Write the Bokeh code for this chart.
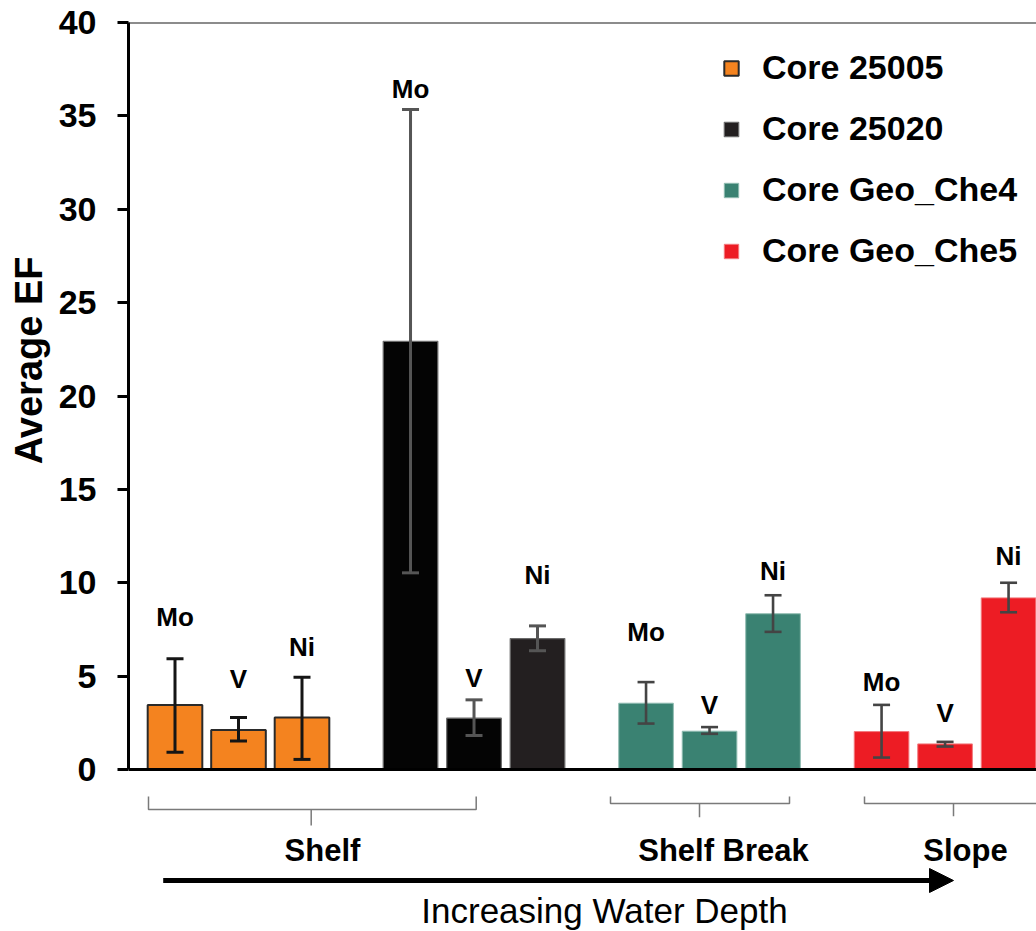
from bokeh.plotting import figure
from bokeh.models import (ColumnDataSource, Range1d, Span, Whisker, TeeHead, Label, Title,
                          Arrow, NormalHead, Legend, LegendItem, FixedTicker)
from bokeh.embed import file_html
from bokeh.resources import INLINE
from bokeh.core.properties import value

# ---------------- data ----------------
cores = ["Core 25005", "Core 25020", "Core Geo_Che4", "Core Geo_Che5"]
elements = ["Mo", "V", "Ni"]

mean_25005 = [3.45, 2.12, 2.78]
low_25005 = [0.93, 1.52, 0.54]
high_25005 = [5.93, 2.78, 4.94]

mean_25020 = [22.93, 2.75, 7.01]
low_25020 = [10.53, 1.82, 6.36]
high_25020 = [35.34, 3.73, 7.69]

mean_che4 = [3.55, 2.05, 8.34]
low_che4 = [2.46, 1.91, 7.37]
high_che4 = [4.68, 2.27, 9.33]

mean_che5 = [2.03, 1.37, 9.19]
low_che5 = [0.64, 1.23, 8.42]
high_che5 = [3.46, 1.48, 10.00]

y_ticks = [0, 5, 10, 15, 20, 25, 30, 35, 40]
zones = ["Shelf", "Shelf Break", "Slope"]
depth_label = "Increasing Water Depth"
y_label = "Average EF"

# ---------------- layout / style ----------------
FONT_NAME = "Liberation Sans"
FONT = value(FONT_NAME)
GROUP_STEP = 3.709
BAR_W = 0.86
PXU_X = 63.5     # pixels per x unit
PXU_Y = 18.675   # pixels per y unit


def X(px):  # pixel -> x data
    return (px - 174.5) / PXU_X


def Y(py):  # pixel -> y data
    return (769 - py) / PXU_Y


# label positions (vertical centre of the element labels, data units)
label_y = [[8.17, 4.87, 6.55], [36.46, 4.91, 10.44], [7.36, 3.43, 10.65], [4.69, 3.03, 11.41]]

styles = [
    dict(fill="#F4831F", edge="#2a2a2a", ew=2.0, ecol="#151515", elw=3.0),
    dict(fill=["#040404", "#040404", "#231F20"], edge="#6a6a6a", ew=1.2, ecol="#555555", elw=3.0),
    dict(fill="#3A8272", edge="#8fbcb1", ew=1.0, ecol="#444444", elw=2.6),
    dict(fill="#ED1C24", edge="#f27a7e", ew=1.0, ecol="#444444", elw=2.6),
]
series = [
    (mean_25005, low_25005, high_25005),
    (mean_25020, low_25020, high_25020),
    (mean_che4, low_che4, high_che4),
    (mean_che5, low_che5, high_che5),
]

p = figure(width=1036, height=931, output_backend="svg", toolbar_location=None,
           x_range=Range1d(X(128), X(1036)), y_range=Range1d(Y(931), 40),
           min_border_left=128, min_border_right=0, min_border_top=22, min_border_bottom=0)
p.xaxis.visible = False
p.xgrid.visible = False
p.ygrid.visible = False
p.outline_line_color = None
p.background_fill_color = "white"
p.border_fill_color = "white"

ya = p.yaxis[0]
ya.bounds = (0, 40)
ya.ticker = FixedTicker(ticks=y_ticks)
ya.minor_tick_line_color = None
ya.major_tick_out = 11
ya.major_tick_in = 0
ya.major_tick_line_width = 3
ya.major_tick_line_color = "black"
ya.axis_line_width = 3
ya.axis_line_color = "black"
ya.major_label_text_font = FONT_NAME
ya.major_label_text_font_style = "bold"
ya.major_label_text_font_size = "34px"
ya.major_label_text_color = "black"
ya.major_label_standoff = 21

# y-axis title, placed to match the original (top end ~ y=257)
p.add_layout(Title(text=y_label, align="right", offset=234, standoff=8, vertical_align="top",
                   text_font=FONT_NAME, text_font_style="bold", text_font_size="38px",
                   text_color="black"), "left")

legend_items = []
for g, (core, (m, lo, hi), st) in enumerate(zip(cores, series, styles)):
    xs = [g * GROUP_STEP + i for i in range(len(elements))]
    fills = st["fill"] if isinstance(st["fill"], list) else [st["fill"]] * 3
    src = ColumnDataSource(dict(x=xs, top=m, lower=lo, upper=hi, el=elements,
                                ly=label_y[g], fill=fills))
    r = p.vbar(x="x", top="top", bottom=0, width=BAR_W, source=src,
               fill_color="fill", line_color=st["edge"], line_width=st["ew"])
    w = Whisker(base="x", lower="lower", upper="upper", source=src, level="annotation",
                line_color=st["ecol"], line_width=st["elw"],
                upper_head=TeeHead(size=17, line_color=st["ecol"], line_width=st["elw"]),
                lower_head=TeeHead(size=17, line_color=st["ecol"], line_width=st["elw"]))
    p.add_layout(w)
    p.text(x="x", y="ly", text="el", source=src, text_align="center",
           text_baseline="alphabetic", text_font=FONT, text_font_style="bold",
           text_font_size="26px", text_color="black")
    legend_items.append(LegendItem(label=core, renderers=[r], index=2 if g == 1 else 0))

# axis frame lines
p.add_layout(Span(location=0, dimension="width", line_width=3, line_color="black"))
p.add_layout(Span(location=40, dimension="width", line_width=2, line_color="#1a1a1a"))

# legend
legend = Legend(items=legend_items, location=(594, 661), glyph_width=18, glyph_height=18,
                label_text_font=FONT_NAME, label_text_font_style="bold", label_text_font_size="34px",
                label_text_color="black", label_height=18, spacing=22, padding=0, margin=0,
                label_standoff=22, border_line_color=None, background_fill_alpha=0)
p.add_layout(legend)

# brackets
br_xs = [
    [X(148), X(148), X(310.7), X(310.7), X(310.7), X(475.7), X(475.7)],
    [X(610), X(610), X(699), X(699), X(699), X(789), X(789)],
    [X(864), X(864), X(953), X(953), X(953), X(1060), X(1060)],
]
br_ys = [
    [Y(796), Y(809), Y(809), Y(825), Y(809), Y(809), Y(796)],
    [Y(796), Y(803), Y(803), Y(816.7), Y(803), Y(803), Y(796)],
    [Y(796), Y(803), Y(803), Y(815.7), Y(803), Y(803), Y(796)],
]
p.multi_line(xs=br_xs, ys=br_ys, line_color="#7a7a7a", line_width=1.5)

zone_x = [X(322), X(723), X(965)]
for z, zx in zip(zones, zone_x):
    p.add_layout(Label(x=zx, y=Y(850), text=z, text_align="center", text_baseline="alphabetic",
                       text_font=FONT_NAME, text_font_style="bold", text_font_size="31px",
                       text_color="black"))

p.add_layout(Arrow(x_start=X(162.7), y_start=Y(880), x_end=X(953), y_end=Y(880),
                   line_width=5, line_color="black",
                   end=NormalHead(size=24, fill_color="black", line_color="black", line_width=1)))

p.add_layout(Label(x=X(604), y=Y(909.5), text=depth_label, text_align="center",
                   text_baseline="alphabetic", text_font=FONT_NAME, text_font_size="35px",
                   text_color="black"))

open("out.html", "w").write(file_html(p, INLINE))
